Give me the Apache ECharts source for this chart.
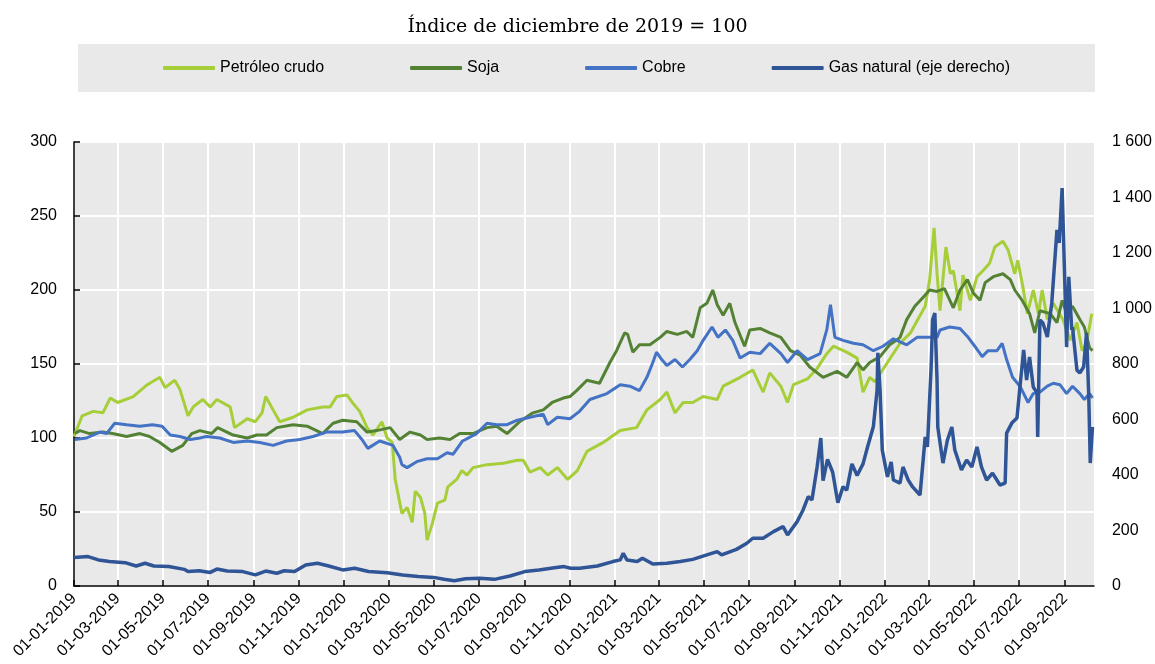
<!DOCTYPE html>
<html>
<head>
<meta charset="utf-8">
<script src="https://cdn.jsdelivr.net/npm/echarts@6/dist/echarts.min.js"></script>
<style>
  html, body { margin: 0; padding: 0; background: #fff; }
  #chart { width: 1155px; height: 664px; }
</style>
</head>
<body>
<div id="chart"></div>
<script>
// Índice de diciembre de 2019 = 100
const tickDates = ['2019-01-01','2019-03-01','2019-05-01','2019-07-01','2019-09-01','2019-11-01',
  '2020-01-01','2020-03-01','2020-05-01','2020-07-01','2020-09-01','2020-11-01',
  '2021-01-01','2021-03-01','2021-05-01','2021-07-01','2021-09-01','2021-11-01',
  '2022-01-01','2022-03-01','2022-05-01','2022-07-01','2022-09-01'];

const petroleo = [
  ['2019-01-01',101],['2019-01-12',115],['2019-01-27',118],['2019-02-09',117],['2019-02-19',127],
  ['2019-03-01',124],['2019-03-22',128],['2019-04-10',136],['2019-04-27',141],['2019-05-04',134],
  ['2019-05-17',139],['2019-05-24',133],['2019-06-04',115],['2019-06-11',121],['2019-06-24',126],
  ['2019-07-04',121],['2019-07-13',126],['2019-07-31',121],['2019-08-06',107],['2019-08-23',113],
  ['2019-09-03',111],['2019-09-12',117],['2019-09-17',128],['2019-09-27',119],['2019-10-06',111],
  ['2019-10-24',114],['2019-11-12',119],['2019-12-03',121],['2019-12-13',121],['2019-12-22',128],
  ['2020-01-05',129],['2020-01-12',124],['2020-01-22',118],['2020-02-01',107],['2020-02-09',102],
  ['2020-02-21',111],['2020-02-28',100],['2020-03-06',97],['2020-03-10',72],['2020-03-19',49],
  ['2020-03-26',53],['2020-04-02',43],['2020-04-06',64],['2020-04-13',60],['2020-04-19',49],
  ['2020-04-22',31],['2020-04-29',42],['2020-05-06',56],['2020-05-16',58],['2020-05-20',67],
  ['2020-06-01',72],['2020-06-08',78],['2020-06-15',75],['2020-06-23',80],['2020-07-12',82],
  ['2020-08-03',83],['2020-08-22',85],['2020-08-30',85],['2020-09-08',77],['2020-09-22',80],
  ['2020-10-02',75],['2020-10-15',80],['2020-10-29',72],['2020-11-11',78],['2020-11-24',91],
  ['2020-12-16',97],['2021-01-08',105],['2021-01-30',107],['2021-02-13',119],['2021-03-03',126],
  ['2021-03-12',131],['2021-03-23',117],['2021-04-03',124],['2021-04-16',124],['2021-04-30',128],
  ['2021-05-19',126],['2021-05-27',135],['2021-06-19',141],['2021-07-06',146],['2021-07-20',131],
  ['2021-07-29',144],['2021-08-13',135],['2021-08-22',124],['2021-08-30',136],['2021-09-18',140],
  ['2021-10-01',147],['2021-10-14',157],['2021-10-23',162],['2021-11-10',158],['2021-11-24',154],
  ['2021-12-02',131],['2021-12-11',141],['2021-12-18',138],['2022-01-04',151],['2022-01-21',164],
  ['2022-02-04',171],['2022-02-14',180],['2022-02-24',189],['2022-03-02',207],['2022-03-08',242],
  ['2022-03-12',211],['2022-03-16',186],['2022-03-24',229],['2022-03-30',211],['2022-04-03',213],
  ['2022-04-12',186],['2022-04-16',210],['2022-04-26',193],['2022-05-05',209],['2022-05-13',213],
  ['2022-05-22',218],['2022-05-29',229],['2022-06-09',233],['2022-06-16',227],['2022-06-25',211],
  ['2022-06-29',220],['2022-07-06',202],['2022-07-12',184],['2022-07-20',200],['2022-07-27',184],
  ['2022-08-01',200],['2022-08-08',180],['2022-08-16',191],['2022-08-29',180],['2022-09-08',166],
  ['2022-09-17',178],['2022-09-24',159],['2022-09-30',164],['2022-10-07',184]
];

const soja = [
  ['2019-01-02',103],['2019-01-09',105],['2019-01-22',103],['2019-02-09',104],['2019-02-22',103],
  ['2019-03-13',101],['2019-03-31',103],['2019-04-13',101],['2019-04-27',97],['2019-05-13',91],
  ['2019-05-28',95],['2019-06-09',103],['2019-06-20',105],['2019-07-06',103],['2019-07-14',107],
  ['2019-08-04',102],['2019-08-23',100],['2019-09-05',102],['2019-09-18',102],['2019-10-02',107],
  ['2019-10-24',109],['2019-11-12',108],['2019-12-03',103],['2019-12-17',110],['2019-12-30',112],
  ['2020-01-18',111],['2020-02-01',104],['2020-02-14',105],['2020-03-03',107],['2020-03-16',99],
  ['2020-03-30',104],['2020-04-13',102],['2020-04-22',99],['2020-05-09',100],['2020-05-23',99],
  ['2020-06-05',103],['2020-06-23',103],['2020-07-12',107],['2020-07-25',108],['2020-08-08',103],
  ['2020-08-25',111],['2020-09-12',117],['2020-09-26',119],['2020-10-08',124],['2020-10-23',127],
  ['2020-11-01',128],['2020-11-10',132],['2020-11-24',139],['2020-12-11',137],['2020-12-25',151],
  ['2021-01-03',159],['2021-01-14',171],['2021-01-18',170],['2021-01-25',158],['2021-02-03',163],
  ['2021-02-17',163],['2021-03-03',168],['2021-03-12',172],['2021-03-26',170],['2021-04-08',172],
  ['2021-04-16',168],['2021-04-26',188],['2021-05-05',191],['2021-05-13',200],['2021-05-19',190],
  ['2021-05-27',183],['2021-06-05',191],['2021-06-12',178],['2021-06-25',162],['2021-07-02',173],
  ['2021-07-16',174],['2021-07-29',171],['2021-08-13',168],['2021-08-26',159],['2021-09-08',156],
  ['2021-09-21',148],['2021-10-09',141],['2021-10-28',145],['2021-11-10',141],['2021-11-24',151],
  ['2021-12-02',146],['2021-12-11',151],['2021-12-25',155],['2022-01-07',163],['2022-01-16',166],
  ['2022-01-21',168],['2022-01-30',180],['2022-02-10',189],['2022-02-21',195],['2022-03-02',200],
  ['2022-03-12',199],['2022-03-22',201],['2022-04-03',188],['2022-04-12',200],['2022-04-22',207],
  ['2022-04-30',198],['2022-05-09',193],['2022-05-16',205],['2022-05-27',209],['2022-06-09',211],
  ['2022-06-19',207],['2022-06-25',200],['2022-07-05',193],['2022-07-15',184],['2022-07-22',171],
  ['2022-07-29',186],['2022-08-12',184],['2022-08-21',178],['2022-08-28',193],['2022-09-03',184],
  ['2022-09-11',189],['2022-09-21',180],['2022-09-27',175],['2022-10-04',161],['2022-10-08',159]
];

const cobre = [
  ['2019-01-02',99],['2019-01-18',100],['2019-02-05',104],['2019-02-14',103],['2019-02-25',110],
  ['2019-03-13',109],['2019-03-31',108],['2019-04-17',109],['2019-04-30',108],['2019-05-11',102],
  ['2019-05-24',101],['2019-06-07',99],['2019-06-20',100],['2019-06-29',101],['2019-07-17',100],
  ['2019-08-04',97],['2019-08-23',98],['2019-09-09',97],['2019-09-27',95],['2019-10-15',98],
  ['2019-11-02',99],['2019-11-20',101],['2019-12-08',104],['2019-12-30',104],['2020-01-15',105],
  ['2020-01-25',99],['2020-02-02',93],['2020-02-18',98],['2020-03-07',95],['2020-03-16',87],
  ['2020-03-19',82],['2020-03-26',80],['2020-04-08',84],['2020-04-22',86],['2020-05-06',86],
  ['2020-05-19',90],['2020-05-27',89],['2020-06-09',98],['2020-06-28',103],['2020-07-12',110],
  ['2020-07-25',109],['2020-08-08',109],['2020-08-22',112],['2020-09-08',114],['2020-09-26',116],
  ['2020-10-02',109],['2020-10-15',114],['2020-11-01',113],['2020-11-14',118],['2020-11-28',126],
  ['2020-12-21',130],['2021-01-08',136],['2021-01-21',135],['2021-02-03',132],['2021-02-13',141],
  ['2021-02-21',151],['2021-02-26',158],['2021-03-05',153],['2021-03-12',149],['2021-03-23',153],
  ['2021-04-02',148],['2021-04-12',153],['2021-04-22',159],['2021-04-30',166],['2021-05-12',175],
  ['2021-05-20',168],['2021-05-30',173],['2021-06-09',166],['2021-06-19',154],['2021-07-02',158],
  ['2021-07-16',157],['2021-07-29',164],['2021-08-13',157],['2021-08-22',151],['2021-09-04',159],
  ['2021-09-18',153],['2021-10-05',157],['2021-10-14',173],['2021-10-19',190],['2021-10-25',168],
  ['2021-11-05',166],['2021-11-19',164],['2021-12-02',163],['2021-12-16',159],['2021-12-29',162],
  ['2022-01-12',167],['2022-01-30',163],['2022-02-13',168],['2022-02-26',168],['2022-03-12',168],
  ['2022-03-16',173],['2022-03-29',175],['2022-04-12',174],['2022-04-23',168],['2022-05-02',162],
  ['2022-05-12',155],['2022-05-20',159],['2022-06-01',159],['2022-06-08',164],['2022-06-14',153],
  ['2022-06-22',141],['2022-07-02',135],['2022-07-13',124],['2022-07-20',130],['2022-07-29',131],
  ['2022-08-08',135],['2022-08-16',137],['2022-08-25',136],['2022-09-03',130],['2022-09-11',135],
  ['2022-09-21',130],['2022-09-27',126],['2022-10-04',130],['2022-10-08',127]
];

// eje derecho
const gasNatural = [
  ['2019-01-01',103],['2019-01-20',106],['2019-02-03',94],['2019-02-18',88],['2019-03-11',84],
  ['2019-03-26',72],['2019-04-07',82],['2019-04-19',72],['2019-05-09',70],['2019-05-30',60],
  ['2019-06-04',52],['2019-06-19',55],['2019-07-04',49],['2019-07-13',61],['2019-07-27',54],
  ['2019-08-17',52],['2019-09-03',40],['2019-09-17',54],['2019-10-02',46],['2019-10-12',55],
  ['2019-10-26',52],['2019-11-10',76],['2019-11-26',82],['2019-12-11',72],['2019-12-30',58],
  ['2020-01-15',64],['2020-02-03',52],['2020-02-28',48],['2020-03-20',40],['2020-04-10',34],
  ['2020-05-01',31],['2020-05-15',24],['2020-05-29',19],['2020-06-13',26],['2020-07-02',28],
  ['2020-07-22',24],['2020-08-12',36],['2020-09-01',52],['2020-09-20',58],['2020-10-11',66],
  ['2020-10-24',70],['2020-11-02',64],['2020-11-14',64],['2020-12-08',72],['2020-12-29',88],
  ['2021-01-08',94],['2021-01-12',118],['2021-01-17',94],['2021-01-31',88],['2021-02-07',100],
  ['2021-02-21',79],['2021-03-12',82],['2021-03-30',88],['2021-04-16',96],['2021-05-05',112],
  ['2021-05-19',124],['2021-05-25',112],['2021-06-14',132],['2021-06-28',154],['2021-07-06',172],
  ['2021-07-20',172],['2021-08-03',196],['2021-08-16',214],['2021-08-22',184],['2021-09-04',232],
  ['2021-09-12',274],['2021-09-19',322],['2021-09-24',310],['2021-10-01',430],['2021-10-06',533],
  ['2021-10-09',380],['2021-10-15',456],['2021-10-22',410],['2021-10-29',300],['2021-11-05',358],
  ['2021-11-10',345],['2021-11-17',440],['2021-11-24',398],['2021-12-02',440],['2021-12-08',500],
  ['2021-12-16',575],['2021-12-21',706],['2021-12-22',840],['2021-12-25',706],['2021-12-28',490],
  ['2022-01-04',393],['2022-01-09',447],['2022-01-12',382],['2022-01-21',371],['2022-01-25',429],
  ['2022-02-01',382],['2022-02-07',357],['2022-02-17',328],['2022-02-24',537],['2022-02-27',501],
  ['2022-03-04',789],['2022-03-06',959],['2022-03-09',984],['2022-03-12',742],['2022-03-13',573],
  ['2022-03-20',443],['2022-03-26',526],['2022-04-01',573],['2022-04-05',490],['2022-04-14',418],
  ['2022-04-21',454],['2022-04-28',429],['2022-05-05',501],['2022-05-11',429],['2022-05-18',382],
  ['2022-05-26',407],['2022-06-05',364],['2022-06-12',371],['2022-06-14',551],['2022-06-21',587],
  ['2022-06-28',605],['2022-07-02',717],['2022-07-07',851],['2022-07-11',742],['2022-07-15',825],
  ['2022-07-20',717],['2022-07-25',696],['2022-07-26',537],['2022-07-29',959],['2022-08-02',948],
  ['2022-08-08',897],['2022-08-14',1020],['2022-08-21',1283],['2022-08-24',1236],['2022-08-28',1434],
  ['2022-08-30',1247],['2022-09-03',861],['2022-09-06',1114],['2022-09-10',923],['2022-09-11',933],
  ['2022-09-17',778],['2022-09-21',768],['2022-09-26',789],['2022-09-30',912],['2022-10-03',681],
  ['2022-10-05',443],['2022-10-08',573]
];

function toTime(s) {
    const p = s.split('-').map(Number);
    return new Date(p[0], p[1] - 1, p[2]).getTime();
}
function fmtDate(v) {
    const d = new Date(v);
    const two = n => String(n).padStart(2, '0');
    return two(d.getDate()) + '-' + two(d.getMonth() + 1) + '-' + d.getFullYear();
}
const withTime = rows => rows.map(r => [toTime(r[0]), r[1]]);

const ticks = tickDates.map(toTime);
const font = 'Liberation Sans, Arial, sans-serif';

const chart = echarts.init(document.getElementById('chart'));

const lineSeries = (name, data, color, axis, width) => ({
    name: name,
    type: 'line',
    yAxisIndex: axis,
    data: withTime(data),
    symbol: 'none',
    lineStyle: { color: color, width: width },
    itemStyle: { color: color }
});

chart.setOption({
    animation: false,
    title: {
        text: 'Índice de diciembre de 2019 = 100',
        left: 'center',
        top: 13,
        textStyle: { fontFamily: 'DejaVu Serif', fontSize: 19, fontWeight: 'normal', color: '#000' }
    },
    graphic: [{
        type: 'rect',
        left: 78, top: 44,
        shape: { width: 1017, height: 48 },
        style: { fill: '#e9e9e9' },
        z: -1
    }],
    legend: {
        left: 163,
        top: 60,
        padding: 0,
        itemGap: 86,
        itemWidth: 52,
        itemHeight: 4,
        icon: 'roundRect',
        textStyle: { fontFamily: font, fontSize: 16, color: '#000' },
        data: ['Petróleo crudo', 'Soja', 'Cobre', 'Gas natural (eje derecho)']
    },
    grid: {
        left: 74, right: 61, top: 142, bottom: 78,
        show: true,
        backgroundColor: '#e9e9e9',
        borderWidth: 0
    },
    xAxis: {
        type: 'value',
        min: toTime('2019-01-01'),
        max: toTime('2022-10-10'),
        axisLine: { lineStyle: { color: '#000', width: 1.5 } },
        axisTick: { show: true, inside: true, length: 6, customValues: ticks, lineStyle: { color: '#000', width: 1.5 } },
        axisLabel: {
            customValues: ticks,
            rotate: 45,
            margin: 10,
            color: '#000',
            fontFamily: font,
            fontSize: 16,
            formatter: v => fmtDate(v)
        },
        splitLine: { show: true, lineStyle: { color: '#fff', width: 2 } }
    },
    yAxis: [{
        type: 'value',
        min: 0, max: 300, interval: 50,
        axisLine: { show: true, lineStyle: { color: '#000', width: 1.5 } },
        axisTick: { show: true, inside: true, length: 6, lineStyle: { color: '#000', width: 1.5 } },
        axisLabel: { color: '#000', fontFamily: font, fontSize: 16, margin: 17 },
        splitLine: { show: true, lineStyle: { color: '#fff', width: 2 } }
    }, {
        type: 'value',
        min: 0, max: 1600, interval: 200,
        position: 'right',
        axisLine: { show: false },
        axisTick: { show: false },
        axisLabel: {
            color: '#000', fontFamily: font, fontSize: 16, margin: 18,
            formatter: v => v >= 1000 ? String(v).replace(/(\d)(\d{3})$/, '$1 $2') : String(v)
        },
        splitLine: { show: false }
    }],
    series: [
        lineSeries('Petróleo crudo', petroleo, '#A6CE39', 0, 3),
        lineSeries('Soja', soja, '#548235', 0, 3),
        lineSeries('Cobre', cobre, '#4472C4', 0, 3),
        lineSeries('Gas natural (eje derecho)', gasNatural, '#2F5597', 1, 3.5)
    ]
});
window.addEventListener('resize', () => chart.resize());
</script>
</body>
</html>
